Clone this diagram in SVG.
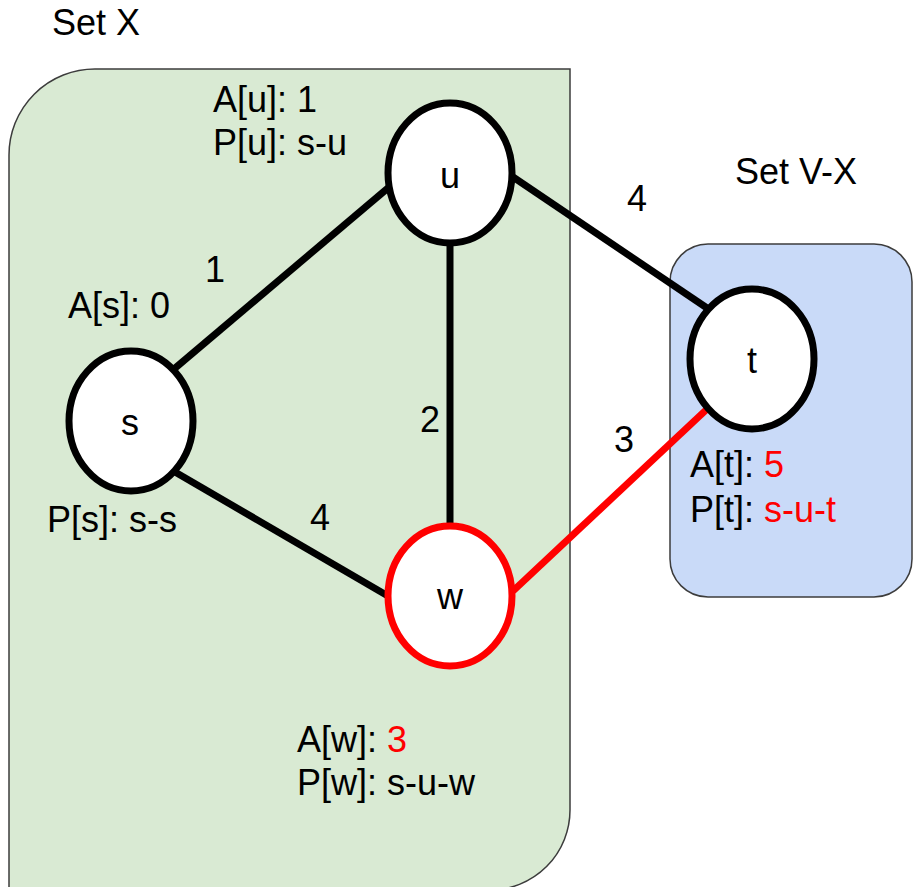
<svg xmlns="http://www.w3.org/2000/svg" width="913" height="887" viewBox="0 0 913 887">
  <style>
    text { font-family: "Liberation Sans", Arial, sans-serif; font-size: 36px; fill: #000; }
    .mid { text-anchor: middle; }
    .red { fill: #ff0000; }
    .panel { stroke: #3c3c3c; stroke-width: 1.5; }
    .node { fill: #ffffff; stroke: #000000; stroke-width: 7; }
    .node.hot { stroke: #ff0000; }
    .edge { stroke: #000000; stroke-width: 7; fill: none; }
    .edge.hot { stroke: #ff0000; }
  </style>

  <!-- Region backgrounds -->
  <g id="set-x">
    <path class="panel" fill="#d9ead3" d="M 9,155 A 86 86 0 0 1 95,69 L 570,69 L 570,810 A 80 80 0 0 1 490,890 L 9,890 Z"/>
    <text x="52" y="35">Set X</text>
  </g>
  <g id="set-vx">
    <rect class="panel" fill="#c9daf8" x="670" y="244" width="242" height="353" rx="38" ry="38"/>
    <text x="735" y="184">Set V-X</text>
  </g>

  <!-- Edges -->
  <g id="edges">
    <line class="edge" x1="174" y1="369" x2="388" y2="188"/>
    <line class="edge" x1="513" y1="177" x2="707" y2="308"/>
    <line class="edge" x1="450" y1="246" x2="450" y2="525"/>
    <line class="edge" x1="175" y1="472" x2="388" y2="596"/>
    <line class="edge hot" x1="513" y1="591" x2="706" y2="410"/>
    <text x="205" y="282">1</text>
    <text x="627" y="211">4</text>
    <text x="420" y="432">2</text>
    <text x="310" y="530">4</text>
    <text x="614" y="452">3</text>
  </g>

  <!-- Nodes -->
  <g id="node-u">
    <ellipse class="node" cx="450" cy="173" rx="62" ry="70"/>
    <text class="mid" x="450" y="188">u</text>
    <text x="213" y="112">A[u]: 1</text>
    <text x="213" y="155">P[u]: s-u</text>
  </g>
  <g id="node-s">
    <ellipse class="node" cx="131" cy="421" rx="62" ry="70"/>
    <text class="mid" x="130" y="435">s</text>
    <text x="68" y="318">A[s]: 0</text>
    <text x="47" y="532">P[s]: s-s</text>
  </g>
  <g id="node-w">
    <ellipse class="node hot" cx="450" cy="596" rx="62" ry="70"/>
    <text class="mid" x="450" y="609">w</text>
    <text x="297" y="752">A[w]: <tspan class="red">3</tspan></text>
    <text x="297" y="795">P[w]: s-u-w</text>
  </g>
  <g id="node-t">
    <ellipse class="node" cx="752" cy="359" rx="62" ry="70"/>
    <text class="mid" x="752" y="373">t</text>
    <text x="690" y="477">A[t]: <tspan class="red">5</tspan></text>
    <text x="690" y="522">P[t]: <tspan class="red">s-u-t</tspan></text>
  </g>
</svg>
